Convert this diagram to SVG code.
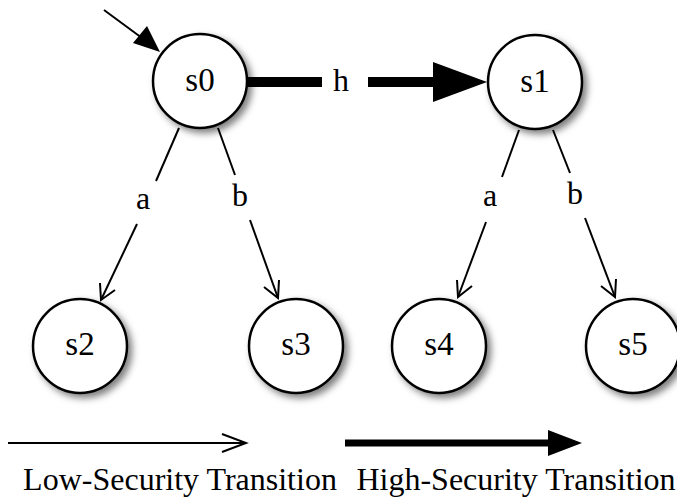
<svg xmlns="http://www.w3.org/2000/svg" width="677" height="500" viewBox="0 0 677 500">
<style>
.node circle{fill:#fff;stroke:#000;stroke-width:2.5;filter:url(#sh)}
text{font-family:"Liberation Serif","Times New Roman",serif;font-size:32px;fill:#000;text-anchor:middle}
.lbl{font-size:33px}
.thin{stroke:#000;stroke-width:2;fill:none}
.open{stroke:#000;stroke-width:2;fill:none;stroke-linejoin:miter}
</style>
<defs>
<filter id="sh" x="-30%" y="-30%" width="160%" height="160%">
<feDropShadow dx="4" dy="4" stdDeviation="3.5" flood-color="#000" flood-opacity="0.5"/>
</filter>
</defs>
<g id="connectors">
<line class="thin" x1="104" y1="10" x2="142" y2="38"/>
<polygon points="160,52 133,43 147,26"/>
<line x1="248" y1="82" x2="322" y2="82" stroke="#000" stroke-width="10"/>
<line x1="368" y1="82" x2="435" y2="82" stroke="#000" stroke-width="10"/>
<polygon points="487,82 433,62 433,102"/>
<line class="thin" x1="179" y1="128" x2="156" y2="181"/>
<line class="thin" x1="137" y1="224" x2="101" y2="300"/>
<polyline class="open" points="100,283 101,300 115,290"/>
<line class="thin" x1="218" y1="128" x2="235" y2="175"/>
<line class="thin" x1="250" y1="220" x2="278" y2="298"/>
<polyline class="open" points="264,287 278,298 279,280"/>
<line class="thin" x1="519" y1="130" x2="502" y2="177"/>
<line class="thin" x1="486" y1="222" x2="458" y2="297"/>
<polyline class="open" points="457,280 458,297 472,286"/>
<line class="thin" x1="553" y1="130" x2="570" y2="173"/>
<line class="thin" x1="585" y1="218" x2="615" y2="297"/>
<polyline class="open" points="601,286 615,297 616,279"/>
<text x="143" y="209">a</text>
<text x="240" y="206">b</text>
<text x="490" y="206">a</text>
<text x="575" y="204">b</text>
<text x="341" y="91">h</text>
</g>
<g id="s0" class="node"><circle cx="200" cy="81" r="47"/><text class="lbl" x="200" y="91">s0</text></g>
<g id="s1" class="node"><circle cx="535" cy="82" r="47"/><text class="lbl" x="535" y="92">s1</text></g>
<g id="s2" class="node"><circle cx="80" cy="346" r="47"/><text class="lbl" x="80" y="355">s2</text></g>
<g id="s3" class="node"><circle cx="296" cy="346" r="47"/><text class="lbl" x="296" y="355">s3</text></g>
<g id="s4" class="node"><circle cx="439" cy="346" r="47"/><text class="lbl" x="439" y="355">s4</text></g>
<g id="s5" class="node"><circle cx="633" cy="346" r="47"/><text class="lbl" x="633" y="355">s5</text></g>
<g id="legend">
<line class="thin" x1="8" y1="443" x2="245" y2="443"/>
<polyline class="open" points="222,434 246,443 222,452"/>
<line x1="345" y1="443" x2="550" y2="443" stroke="#000" stroke-width="7"/>
<polygon points="582,443 548,430 548,456"/>
<text x="180" y="490">Low-Security Transition</text>
<text x="516" y="490">High-Security Transition</text>
</g>
</svg>
